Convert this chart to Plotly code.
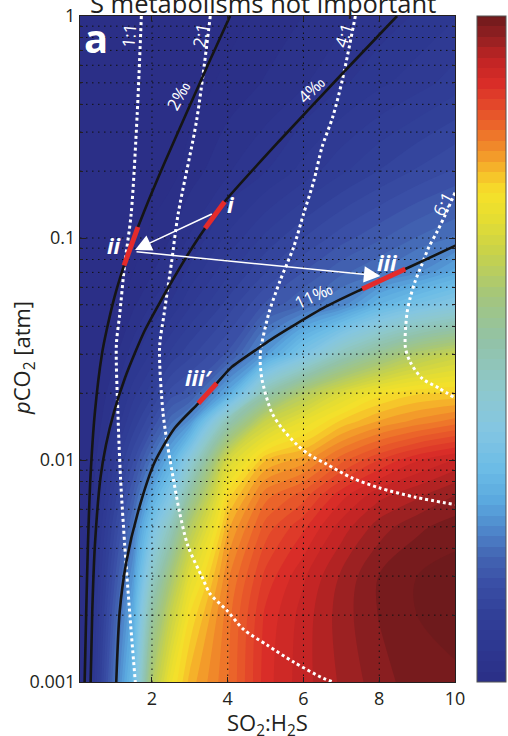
import math
import plotly.graph_objects as go

# ---------------- data ----------------
# fractionation field (permil) read on a grid: columns are x (SO2:H2S), rows are pCO2
x_grid = [0.1, 0.5, 1, 1.5, 2, 2.5, 3, 4, 5, 6, 7, 8, 9, 10]
y_grid = [0.001, 0.002, 0.003, 0.005, 0.007, 0.01, 0.015, 0.02, 0.03, 0.05, 0.07, 0.1, 0.2, 0.5, 1]
field_by_x = [
    [1.6, 1.5, 1.45, 1.4, 1.35, 1.3, 1.25, 1.2, 1.15, 1.1, 1.05, 1.0, 0.95, 0.9, 0.8],
    [5.0, 4.5, 4.1, 3.6, 3.2, 2.8, 2.35, 2.1, 1.85, 1.65, 1.55, 1.45, 1.3, 1.1, 0.9],
    [10.5, 9.3, 8.4, 7.2, 6.3, 5.4, 4.1, 3.5, 2.7, 1.97, 1.8, 1.7, 1.45, 1.2, 1.0],
    [15.5, 13.8, 12.5, 10.8, 9.4, 7.9, 6.2, 5.2, 3.95, 2.8, 2.3, 1.97, 1.7, 1.45, 1.2],
    [27, 23.5, 20.5, 16.5, 13.5, 10.8, 8.0, 6.6, 5.0, 3.65, 2.9, 2.45, 1.88, 1.65, 1.4],
    [31.5, 28.5, 26, 21.5, 17.5, 14, 10.3, 8.3, 6.3, 4.3, 3.55, 2.95, 2.07, 1.8, 1.55],
    [33.8, 32.3, 30.5, 27, 23.5, 19, 12.0, 9.0, 7.2, 5.4, 4.4, 3.65, 2.6, 1.92, 1.7],
    [36, 35.8, 35.3, 34, 32.5, 29.5, 22, 13.5, 8.8, 7.0, 6.0, 5.0, 3.5, 2.5, 2.0],
    [39, 38.8, 38.2, 37, 35.8, 33.5, 28.5, 22.5, 12.6, 8.8, 7.4, 6.3, 4.2, 3.0, 2.5],
    [40.3, 40.2, 39.8, 38.5, 37, 34.5, 31, 27, 17, 10.0, 8.7, 7.4, 5.1, 3.5, 2.95],
    [41.3, 41.5, 41.3, 40.2, 39, 36.5, 33, 30, 21.5, 11.5, 9.8, 8.4, 6.0, 4.1, 3.4],
    [42.2, 42.5, 42.5, 41.5, 40.3, 38, 34.2, 32, 24.5, 14.5, 10.6, 9.2, 6.8, 4.7, 3.8],
    [42.8, 43.1, 43.1, 42.3, 41, 39.2, 35, 32.8, 27, 16.5, 11.8, 10.0, 7.5, 5.2, 4.3],
    [43, 43.3, 43.4, 42.8, 41.8, 40, 35.7, 33, 28.5, 18, 13.5, 10.7, 8.1, 5.8, 4.8],
]
z_min, z_max = 2.3, 43.1
cbar_tick_frac = [0.188, 0.311, 0.434, 0.558, 0.680, 0.803, 0.926]

# black fractionation contours
c2_x = [4.063, 3.534, 2.900, 2.318, 1.948, 1.631, 1.433, 1.248, 1.010, 0.798, 0.679, 0.494, 0.375, 0.309, 0.264, 0.222]
c2_y = [1.0, 0.6334, 0.3619, 0.2154, 0.1530, 0.1121, 0.0911, 0.0740, 0.0542, 0.0381, 0.0300, 0.01645, 0.0083, 0.00414, 0.00207, 0.001]
c4_x = [8.470, 7.090, 5.385, 3.918, 3.402, 3.072, 2.530, 2.186, 1.803, 1.538, 1.287, 0.997, 0.785, 0.640, 0.494, 0.423, 0.381]
c4_y = [1.0, 0.5652, 0.2763, 0.1457, 0.1106, 0.0911, 0.0640, 0.0504, 0.0381, 0.0300, 0.0234, 0.01645, 0.01168, 0.0083, 0.00414, 0.00207, 0.001]
c11_x = [10.01, 8.689, 7.552, 6.574, 5.755, 5.120, 4.856, 4.10, 3.711, 3.225, 2.601, 2.072, 1.631, 1.322, 1.147, 1.057]
c11_y = [0.0923, 0.0725, 0.0589, 0.0489, 0.0405, 0.0347, 0.0323, 0.0262, 0.02216, 0.0180, 0.01393, 0.00979, 0.00583, 0.00347, 0.00207, 0.001]

# white dotted ratio lines
r1_x = [1.72, 1.61, 1.45, 1.28, 1.15, 1.06, 1.10, 1.17, 1.28, 1.41, 1.56]
r1_y = [1.0, 0.362, 0.128, 0.0763, 0.0455, 0.033, 0.0164, 0.0083, 0.00414, 0.00207, 0.001]
r2_x = [3.54, 3.18, 2.69, 2.51, 2.32, 2.20, 2.29, 2.41, 2.56, 2.73, 2.95, 3.35, 3.53, 3.98, 4.41, 5.03, 5.74, 6.52, 6.79]
r2_y = [1.0, 0.34, 0.128, 0.0763, 0.0455, 0.032, 0.0164, 0.0117, 0.0083, 0.0058, 0.0041, 0.0029, 0.0025, 0.0021, 0.00173, 0.00147, 0.00123, 0.00104, 0.001]
r4_x = [7.37, 7.02, 6.77, 6.49, 6.27, 6.0, 5.74, 5.38, 5.08, 4.86, 4.90, 5.16, 5.43, 5.83, 6.18, 6.6, 7.28, 7.99, 8.95, 10.0]
r4_y = [1.0, 0.51, 0.35, 0.257, 0.18, 0.128, 0.091, 0.064, 0.0455, 0.030, 0.0233, 0.0164, 0.0139, 0.0117, 0.0105, 0.0096, 0.0083, 0.0075, 0.0068, 0.0063]
r6_x = [10.0, 9.75, 9.53, 9.31, 9.13, 8.95, 8.82, 8.73, 8.69, 8.82, 9.13, 9.57, 10.0]
r6_y = [0.16, 0.128, 0.107, 0.091, 0.0763, 0.064, 0.054, 0.0455, 0.0322, 0.0276, 0.0233, 0.0211, 0.019]

# red highlighted segments
seg_i_x, seg_i_y = [3.918, 3.402], [0.1457, 0.1106]
seg_ii_x, seg_ii_y = [1.631, 1.262], [0.1121, 0.0752]
seg_iii_x, seg_iii_y = [8.689, 7.552], [0.0725, 0.0589]
seg_iiip_x, seg_iiip_y = [3.711, 3.225], [0.02216, 0.0180]

# arrows (tail -> head)
arrow1 = [(3.62, 0.1292), (1.552, 0.0883)]
arrow2 = [(1.552, 0.0868), (8.03, 0.0674)]

# grid positions
x_ticks = [2, 4, 6, 8, 10]
y_major = [0.001, 0.01, 0.1, 1]
y_minor = [m * d for d in (0.001, 0.01, 0.1) for m in range(2, 10)]

colorscale = [
    [0.00, '#2b2f87'], [0.05, '#2d3790'], [0.10, '#313f98'], [0.15, '#3a50a6'],
    [0.19, '#4466b4'], [0.23, '#4f88cc'], [0.27, '#5aa8de'], [0.32, '#6cbce6'],
    [0.38, '#84c6e2'], [0.44, '#8ec8cc'], [0.51, '#92c2a8'], [0.58, '#a4c67c'],
    [0.645, '#c8d24a'], [0.70, '#e8de30'], [0.735, '#f6e02a'], [0.76, '#f6c42a'],
    [0.79, '#f39a2a'], [0.83, '#ec6a2a'], [0.87, '#e2442a'], [0.90, '#d82c28'],
    [0.935, '#c02424'], [0.965, '#962022'], [1.00, '#6e1a1c'],
]

# ---------------- figure ----------------
z = [[col[j] for col in field_by_x] for j in range(len(y_grid))]
n_levels = 64
step = (z_max - z_min) / n_levels

L_PX, R_PX, T_PX, B_PX = 80, 455, 16, 682
W_PLOT = R_PX - L_PX
H_PLOT = B_PX - T_PX
cb_x0 = (477 - L_PX) / W_PLOT
cb_x1 = (506 - L_PX) / W_PLOT

fig = go.Figure()
fig.add_trace(go.Contour(
    x=x_grid, y=y_grid, z=z,
    colorscale=colorscale, zmin=z_min, zmax=z_max,
    contours=dict(coloring='fill', start=z_min, end=z_max, size=step, showlines=False),
    line=dict(width=0),
    colorbar=dict(x=cb_x0, xanchor='left', xpad=0, ypad=0,
                  y=0.5, yanchor='middle', len=1, lenmode='fraction',
                  thickness=29, outlinewidth=1, outlinecolor='#555',
                  ticks='', showticklabels=False),
    hoverinfo='skip',
))

# dotted grid on top of the field
gx, gy = [], []
for xv in x_ticks[:-1]:
    gx += [xv, xv, None]
    gy += [0.001, 1, None]
for yv in y_major[1:-1] + y_minor:
    gx += [0.1, 10, None]
    gy += [yv, yv, None]
fig.add_trace(go.Scatter(x=gx, y=gy, mode='lines', hoverinfo='skip',
                         line=dict(color='#111', width=1, dash='1.5px,4.5px'), showlegend=False))

for lx, ly in [(r1_x, r1_y), (r2_x, r2_y), (r4_x, r4_y), (r6_x, r6_y)]:
    fig.add_trace(go.Scatter(x=lx, y=ly, mode='lines', showlegend=False, hoverinfo='skip',
                             line=dict(color='white', width=3, dash='dot', shape='spline', smoothing=0.8)))
for lx, ly in [(c2_x, c2_y), (c4_x, c4_y), (c11_x, c11_y)]:
    fig.add_trace(go.Scatter(x=lx, y=ly, mode='lines', showlegend=False, hoverinfo='skip',
                             line=dict(color='#151515', width=2.6, shape='spline', smoothing=0.7)))
for lx, ly in [(seg_i_x, seg_i_y), (seg_ii_x, seg_ii_y), (seg_iii_x, seg_iii_y), (seg_iiip_x, seg_iiip_y)]:
    fig.add_trace(go.Scatter(x=lx, y=ly, mode='lines', showlegend=False, hoverinfo='skip',
                             line=dict(color='#e42b2b', width=5)))

L = math.log10
font = 'Open Sans, Liberation Sans, sans-serif'
ink = '#231f20'
ann = []
for (tx, ty), (hx, hy) in [arrow1, arrow2]:
    ann.append(dict(x=hx, y=L(hy), ax=tx, ay=L(ty), xref='x', yref='y', axref='x', ayref='y',
                    text='', showarrow=True, arrowhead=2, arrowsize=2.2, arrowwidth=1.5,
                    arrowcolor='white'))

def label(txt, x, y, size, angle=0):
    ann.append(dict(x=x, y=L(y), xref='x', yref='y', text=txt, showarrow=False,
                    textangle=angle, font=dict(family=font, size=size, color='white'),
                    xanchor='center', yanchor='middle'))

label('<b><i>i</i></b>', 4.09, 0.1425, 22)
label('<b><i>ii</i></b>', 1.02, 0.093, 22)
label('<b><i>iii</i></b>', 8.21, 0.0781, 22)
label('<b><i>iii\u2032</i></b>', 3.24, 0.0236, 22)
label('1:1', 1.38, 0.821, 17, -85)
label('2:1', 3.27, 0.821, 17, -80)
label('4:1', 7.05, 0.821, 17, -72)
label('6:1', 9.67, 0.142, 17, -62)
label('2\u2030', 2.69, 0.44, 17, -62)
label('4\u2030', 6.20, 0.469, 17, -45)
label('11\u2030', 6.26, 0.0548, 17, -25)
label('<b>a</b>', 0.52, 0.80, 40)

# title (cut by the top edge as in the source) and axis titles
ann.append(dict(x=0.487, y=1 - 6.5 / H_PLOT, xref='paper', yref='paper', yanchor='bottom', xanchor='center',
                text='S metabolisms not important', showarrow=False,
                font=dict(family=font, size=25.5, color=ink)))
ann.append(dict(x=(267.5 - L_PX) / W_PLOT, y=-(705 - B_PX) / H_PLOT, xref='paper', yref='paper',
                xanchor='center', yanchor='top', text='SO<sub>2</sub>:H<sub>2</sub>S', showarrow=False,
                font=dict(family=font, size=22, color=ink)))
ann.append(dict(x=(23 - L_PX) / W_PLOT, y=(B_PX - 358) / H_PLOT, xref='paper', yref='paper',
                xanchor='center', yanchor='middle', textangle=-90,
                text='<i>p</i>CO<sub>2</sub> [atm]', showarrow=False,
                font=dict(family=font, size=22, color=ink)))

# colorbar tick marks on both edges of the bar
shapes = []
for f in cbar_tick_frac:
    for xa, xb in [(cb_x0, cb_x0 + 5 / W_PLOT), (cb_x1 - 5 / W_PLOT, cb_x1)]:
        shapes.append(dict(type='line', xref='paper', yref='paper', x0=xa, x1=xb, y0=f, y1=f,
                           line=dict(color='#333', width=1)))

fig.update_layout(
    width=508, height=736,
    margin=dict(l=L_PX, r=508 - R_PX, t=T_PX, b=736 - B_PX, autoexpand=False),
    paper_bgcolor='white', plot_bgcolor='white',
    showlegend=False,
    annotations=ann, shapes=shapes,
    font=dict(family=font, color=ink, size=18),
    xaxis=dict(range=[0.1, 10], tickvals=x_ticks, ticks='inside', ticklen=5, tickcolor=ink,
               showline=True, linecolor=ink, linewidth=1, mirror='ticks', showgrid=False,
               zeroline=False, tickfont=dict(size=18)),
    yaxis=dict(type='log', range=[-3, 0], tickvals=y_major, ticktext=['0.001', '0.01', '0.1', '1'],
               ticks='inside', ticklen=6, tickcolor=ink, showline=True, linecolor=ink,
               linewidth=1, mirror='ticks', showgrid=False, zeroline=False, tickfont=dict(size=18),
               minor=dict(tickvals=y_minor, ticks='inside', ticklen=3, tickcolor=ink, showgrid=False)),
)

fig.write_html('out.html', config={'displayModeBar': False},
               post_script="document.body.style.margin='0';document.body.style.overflow='hidden';")
